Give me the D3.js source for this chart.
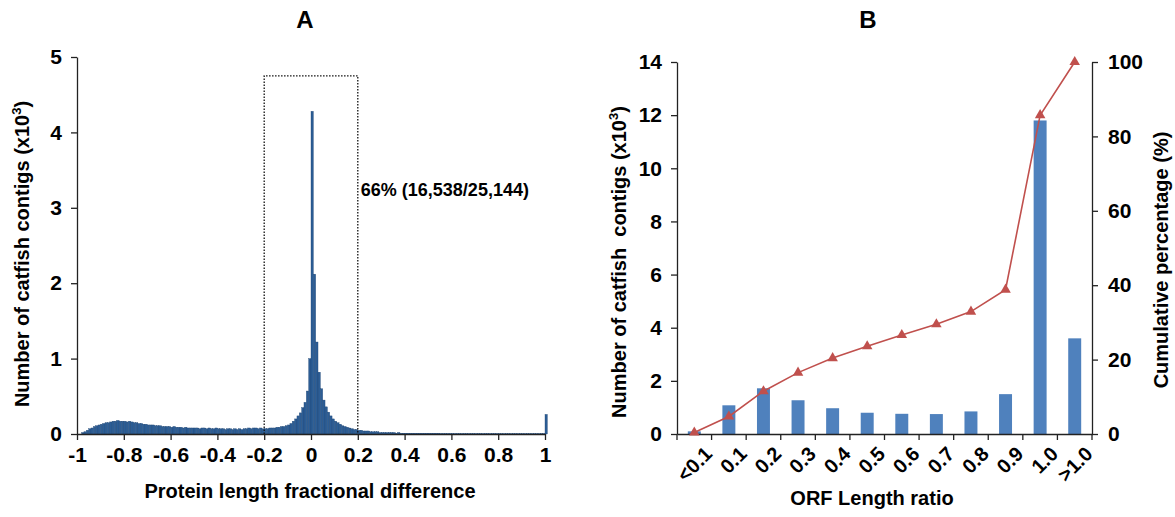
<!DOCTYPE html>
<html>
<head>
<meta charset="utf-8">
<script src="https://cdn.jsdelivr.net/npm/d3@7/dist/d3.min.js"></script>
<style>
  body { margin: 0; background: #fff; }
  svg { display: block; font-family: "Liberation Sans", Arial, sans-serif; }
  .tick text { font-weight: bold; }
</style>
</head>
<body>
<svg id="chart" width="1175" height="517"></svg>
<script>
// ---------- Panel A: histogram of protein length fractional difference ----------
// counts (x10^3) per 0.01-wide bin, starting at -1.00; last bin is [1.00, 1.01)
const histBinStart = -1;
const histBinWidth = 0.01;
const histCounts = [
  0.00, 0.00, 0.02, 0.03, 0.05, 0.07, 0.08, 0.10, 0.11, 0.12,
  0.13, 0.14, 0.15, 0.15, 0.16, 0.17, 0.17, 0.18, 0.17, 0.17,
  0.17, 0.16, 0.17, 0.16, 0.15, 0.15, 0.14, 0.14, 0.13, 0.13,
  0.12, 0.12, 0.12, 0.11, 0.11, 0.11, 0.10, 0.10, 0.10, 0.10,
  0.09, 0.10, 0.09, 0.09, 0.09, 0.08, 0.09, 0.08, 0.08, 0.08,
  0.08, 0.08, 0.07, 0.08, 0.08, 0.07, 0.08, 0.07, 0.07, 0.08,
  0.07, 0.07, 0.07, 0.06, 0.07, 0.07, 0.06, 0.07, 0.06, 0.07,
  0.06, 0.07, 0.07, 0.08, 0.07, 0.08, 0.08, 0.07, 0.08, 0.07,
  0.07, 0.07, 0.08, 0.08, 0.08, 0.09, 0.09, 0.10, 0.10, 0.11,
  0.12, 0.14, 0.17, 0.20, 0.24, 0.28, 0.35, 0.42, 0.57, 1.00,
  4.28, 2.12, 1.22, 0.82, 0.60, 0.45, 0.36, 0.29, 0.24, 0.20,
  0.17, 0.15, 0.13, 0.11, 0.10, 0.09, 0.08, 0.07, 0.06, 0.06,
  0.05, 0.05, 0.04, 0.04, 0.04, 0.03, 0.03, 0.03, 0.03, 0.02,
  0.02, 0.02, 0.02, 0.02, 0.02, 0.02, 0.01, 0.02, 0.01, 0.01,
  0.01, 0.01, 0.01, 0.01, 0.01, 0.01, 0.01, 0.01, 0.01, 0.01,
  0.01, 0.01, 0.01, 0.01, 0.01, 0.006, 0.006, 0.006, 0.006, 0.006,
  0.005, 0.005, 0.005, 0.005, 0.005, 0.005, 0.005, 0.005, 0.005, 0.005,
  0.005, 0.005, 0.005, 0.005, 0.005, 0.005, 0.005, 0.005, 0.005, 0.005,
  0.004, 0.004, 0.004, 0.004, 0.004, 0.004, 0.004, 0.004, 0.004, 0.004,
  0.004, 0.004, 0.004, 0.004, 0.004, 0.004, 0.004, 0.004, 0.004, 0.004,
  0.26
];
const histXTicks = [-1, -0.8, -0.6, -0.4, -0.2, 0, 0.2, 0.4, 0.6, 0.8, 1];
const histYTicks = [0, 1, 2, 3, 4, 5];
const boxRange = [-0.2, 0.2];
const boxTop = 4.75;
const boxLabel = "66% (16,538/25,144)";

// ---------- Panel B: ORF length ratio ----------
const orfCategories = ["<0.1", "0.1", "0.2", "0.3", "0.4", "0.5", "0.6", "0.7", "0.8", "0.9", "1.0", ">1.0"];
const orfCounts = [0.10, 1.08, 1.72, 1.27, 0.97, 0.80, 0.76, 0.75, 0.85, 1.50, 11.80, 3.60];   // x10^3
const orfCumulative = [0.4, 4.7, 11.5, 16.5, 20.4, 23.6, 26.6, 29.5, 32.9, 38.8, 85.7, 100];    // %
const orfLeftTicks = [0, 2, 4, 6, 8, 10, 12, 14];
const orfRightTicks = [0, 20, 40, 60, 80, 100];

const svg = d3.select("#chart");
const TICK_FONT = 21;
const LABEL_FONT = 20;

function styleAxis(g) {
  g.select(".domain").attr("stroke", "#222").attr("stroke-width", 1.3);
  g.selectAll(".tick line").attr("stroke", "#222").attr("stroke-width", 1.3);
  g.selectAll(".tick text").attr("fill", "#000").style("font-size", TICK_FONT + "px");
}

function boldText(x, y, size, str, anchor) {
  return svg.append("text").attr("x", x).attr("y", y)
    .attr("text-anchor", anchor || "middle")
    .style("font-size", size + "px").style("font-weight", "bold").attr("fill", "#000").text(str);
}

// ===== Panel A =====
{
  const left = 77, right = 545, top = 57, bottom = 434;
  const x = d3.scaleLinear().domain([-1, 1]).range([left, right]);
  const y = d3.scaleLinear().domain([0, 5]).range([bottom, top]);

  boldText(305, 28, 24, "A");

  svg.append("g").selectAll("rect").data(histCounts).join("rect")
    .attr("x", (d, i) => x(histBinStart + i * histBinWidth))
    .attr("width", x(histBinWidth) - x(0))
    .attr("y", d => y(d))
    .attr("height", d => y(0) - y(d))
    .attr("fill", "#2c5d95")
    .attr("stroke", "#1c4270")
    .attr("stroke-width", 0.35);

  // dotted window around the central peak
  svg.append("path")
    .attr("d", `M${x(boxRange[0])},${y(0)}V${y(boxTop)}H${x(boxRange[1])}V${y(0)}`)
    .attr("fill", "none").attr("stroke", "#111").attr("stroke-width", 1.3)
    .attr("stroke-dasharray", "1.5,1.5");

  boldText(x(boxRange[1]) + 3, 196, 18, boxLabel, "start");

  const xa = svg.append("g").attr("transform", `translate(0,${bottom})`)
    .call(d3.axisBottom(x).tickValues(histXTicks).tickSize(6).tickPadding(7)
      .tickFormat(d => String(+d.toFixed(1))).tickSizeOuter(0));
  styleAxis(xa);

  const ya = svg.append("g").attr("transform", `translate(${left},0)`)
    .call(d3.axisLeft(y).tickValues(histYTicks).tickFormat(d3.format("d"))
      .tickSize(6).tickPadding(9).tickSizeOuter(0));
  styleAxis(ya);

  boldText(310, 498, LABEL_FONT, "Protein length fractional difference");

  const yl = svg.append("text").attr("transform", `translate(29,254) rotate(-90)`)
    .attr("text-anchor", "middle").style("font-size", LABEL_FONT + "px").style("font-weight", "bold");
  yl.append("tspan").text("Number of catfish contigs (x10");
  yl.append("tspan").attr("dy", -8).style("font-size", "13px").text("3");
  yl.append("tspan").attr("dy", 8).text(")");
}

// ===== Panel B =====
{
  const left = 677, right = 1092, top = 62, bottom = 434;
  const x = d3.scaleBand().domain(orfCategories).range([left, right]).paddingInner(0).paddingOuter(0);
  const yL = d3.scaleLinear().domain([0, 14]).range([bottom, top]);
  const yR = d3.scaleLinear().domain([0, 100]).range([bottom, top]);
  const barW = x.bandwidth() * 0.375;
  const cx = c => x(c) + x.bandwidth() / 2;

  boldText(868, 28, 24, "B");

  svg.append("g").selectAll("rect").data(orfCategories).join("rect")
    .attr("x", d => cx(d) - barW / 2)
    .attr("width", barW)
    .attr("y", (d, i) => yL(orfCounts[i]))
    .attr("height", (d, i) => yL(0) - yL(orfCounts[i]))
    .attr("fill", "#4f81bd");

  const xa = svg.append("g").attr("transform", `translate(0,${bottom})`)
    .call(d3.axisBottom(x).tickSize(0).tickFormat(""));
  xa.select(".domain").attr("stroke", "#222").attr("stroke-width", 1.3);
  xa.selectAll(".tick").remove();
  // tick marks sit on the category boundaries
  const bounds = orfCategories.map(c => x(c)).concat([right]);
  xa.selectAll("line.sep").data(bounds).join("line").attr("class", "sep")
    .attr("x1", d => d).attr("x2", d => d)
    .attr("y1", 0).attr("y2", 6).attr("stroke", "#222").attr("stroke-width", 1.3);
  xa.selectAll("text.lab").data(orfCategories).join("text").attr("class", "lab")
    .attr("transform", d => `translate(${cx(d) + 9},${11}) rotate(-45)`)
    .attr("text-anchor", "end").attr("dy", "0.72em").attr("fill", "#000")
    .style("font-size", "20px").style("font-weight", "bold").text(d => d);

  const yla = svg.append("g").attr("transform", `translate(${left},0)`)
    .call(d3.axisLeft(yL).tickValues(orfLeftTicks).tickSize(6).tickPadding(9).tickSizeOuter(0));
  styleAxis(yla);

  const yra = svg.append("g").attr("transform", `translate(${right},0)`)
    .call(d3.axisRight(yR).tickValues(orfRightTicks).tickSize(6).tickPadding(10).tickSizeOuter(0));
  styleAxis(yra);

  const line = d3.line()
    .x((d, i) => cx(orfCategories[i]))
    .y(d => yR(d));
  svg.append("path").datum(orfCumulative).attr("d", line)
    .attr("fill", "none").attr("stroke", "#c0504d").attr("stroke-width", 1.6);
  svg.append("g").selectAll("path").data(orfCumulative).join("path")
    .attr("transform", (d, i) => `translate(${cx(orfCategories[i])},${yR(d)})`)
    .attr("d", d3.symbol(d3.symbolTriangle, 48))
    .attr("fill", "#c0504d");

  boldText(872, 505, LABEL_FONT, "ORF Length ratio");

  const yl = svg.append("text").attr("transform", `translate(626,262) rotate(-90)`)
    .attr("text-anchor", "middle").style("font-size", LABEL_FONT + "px").style("font-weight", "bold")
    .style("white-space", "pre");
  yl.append("tspan").text("Number of catfish  contigs (x10");
  yl.append("tspan").attr("dy", -8).style("font-size", "13px").text("3");
  yl.append("tspan").attr("dy", 8).text(")");

  svg.append("text").attr("transform", `translate(1168,260) rotate(-90)`)
    .attr("text-anchor", "middle").style("font-size", LABEL_FONT + "px").style("font-weight", "bold")
    .text("Cumulative percentage (%)");
}
</script>
</body>
</html>
